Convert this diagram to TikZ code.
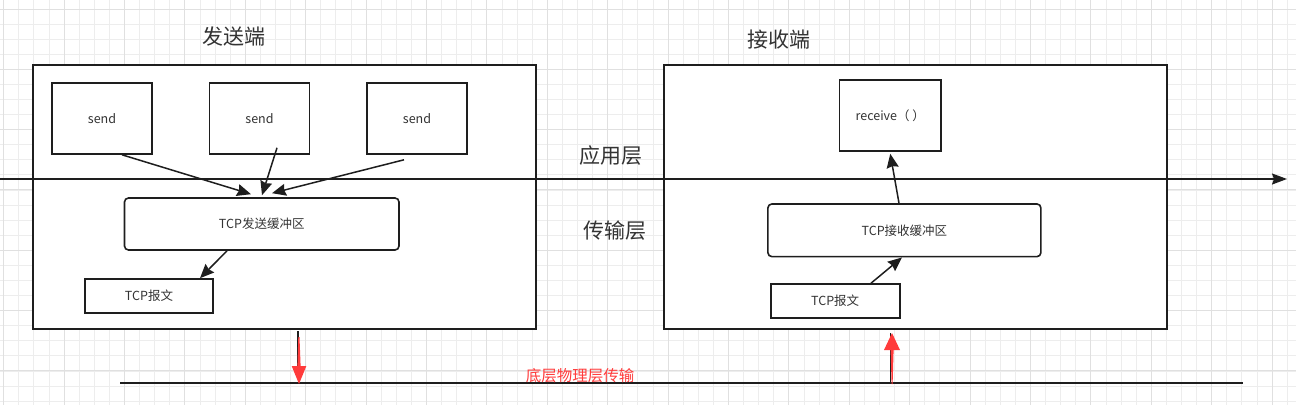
\documentclass[tikz,border=0pt]{standalone}
\usepackage{fontspec}
\setmainfont{Noto Sans CJK SC}
\usetikzlibrary{arrows.meta}
\definecolor{minorgrid}{HTML}{EDEDED}
\definecolor{majorgrid}{HTML}{E0E0E0}
\definecolor{ink}{HTML}{1E1E1E}
\definecolor{txt}{HTML}{333333}
\definecolor{redink}{HTML}{FF3B3B}
\tikzset{
  outerbox/.style={draw=ink, line width=1.6pt, fill=white, inner sep=0pt},
  box/.style={draw=ink, line width=1.6pt, fill=white, inner sep=0pt, text=txt,
    font=\fontsize{12.5}{14}\selectfont},
  rbox/.style={box, rounded corners=4pt},
  arr/.style={draw=ink, line width=1.5pt, -{Stealth[length=14pt,width=12pt,inset=1.5pt]}},
  mainarr/.style={draw=ink, line width=1.6pt, -{Stealth[length=15pt,width=11pt,inset=2pt]}},
  plain/.style={draw=ink, line width=1.6pt},
  redshape/.style={fill=redink, draw=none},
  title/.style={text=txt, font=\fontsize{21}{24}\selectfont, inner sep=0pt},
  redlabel/.style={text=redink, font=\fontsize{15.5}{18}\selectfont, inner sep=0pt},
}
\begin{document}
\begin{tikzpicture}[x=1pt,y=-1pt]
\useasboundingbox (0,0) rectangle (1296,405);
\fill[white] (0,0) rectangle (1296,405);
% grid
\foreach \k in {0,...,85} {\draw[minorgrid, line width=0.8pt] ({3.6+15.1*\k},0) -- ({3.6+15.1*\k},405);}
\foreach \k in {0,...,26} {\draw[minorgrid, line width=0.8pt] (0,{9+15.08*\k}) -- (1296,{9+15.08*\k});}
\foreach \k in {0,...,21} {\draw[majorgrid, line width=1pt] ({3.6+60.4*\k},0) -- ({3.6+60.4*\k},405);}
\foreach \k in {0,...,6} {\draw[majorgrid, line width=1pt] (0,{9+60.32*\k}) -- (1296,{9+60.32*\k});}

% outer boxes
\node[outerbox, minimum width=503pt, minimum height=264pt] (sbox) at (284.5,197) {};
\node[outerbox, minimum width=503pt, minimum height=264pt] (rbox) at (915.5,197) {};

% titles
\node[title] (stitle) at (233.5,37) {发送端};
\node[title] (rtitle) at (778.5,40) {接收端};
\node[title] (app) at (610.5,156) {应用层};
\node[title] (trans) at (614.5,231) {传输层};

% main layer line
\coordinate (L0) at (0,179);
\coordinate (L1) at (1287,179);
\draw[mainarr] (L0) -- (L1);

% sender inner
\node[box, minimum width=100pt, minimum height=71pt] (send1) at (102,118.5) {send};
\node[box, minimum width=100pt, minimum height=71pt] (send2) at (259.5,118.5) {send};
\node[box, minimum width=100pt, minimum height=71pt] (send3) at (417,118.5) {send};
\node[rbox, minimum width=274.5pt, minimum height=52pt] (sbuf) at (261.75,224) {TCP发送缓冲区};
\node[box, minimum width=128pt, minimum height=34pt] (smsg) at (149,296) {TCP报文};

% receiver inner
\node[box, minimum width=101.5pt, minimum height=71pt] (recv) at (890.25,115.5) {receive（ ）};
\node[rbox, minimum width=273pt, minimum height=52.7pt] (rbuf) at (904.4,230.3) {TCP接收缓冲区};
\node[box, minimum width=129pt, minimum height=34pt] (rmsg) at (835.2,301) {TCP报文};

% arrows sender
\draw[arr] ([xshift=20pt]send1.south) -- ([xshift=-10.75pt,yshift=3pt]sbuf.north);
\draw[arr] ([xshift=17.5pt,yshift=7pt]send2.south) -- ([xshift=0.25pt,yshift=2pt]sbuf.north);
\draw[arr] ([xshift=-13pt,yshift=-5pt]send3.south) -- ([xshift=10.25pt,yshift=4pt]sbuf.north);
\draw[arr] ([xshift=-34.75pt]sbuf.south) -- ([xshift=51pt]smsg.north);

% arrows receiver
\draw[arr] ([xshift=-5.4pt]rbuf.north) -- ([yshift=-2pt]recv.south);
\draw[arr] ([xshift=35.8pt]rmsg.north) -- ([xshift=-2.4pt]rbuf.south);

% bottom physical line
\coordinate (B0) at (120,383);
\coordinate (B1) at (1243,383);
\draw[plain] (B0) -- (B1);
\node[redlabel] (phys) at (580,375.5) {底层物理层传输};

% sender transfer (down)
\coordinate (sd0) at (297.8,331);
\coordinate (sd1) at (297.8,372);
\draw[plain] (sd0) -- (sd1);
\fill[redshape] (298.3,337) -- (299.5,337) -- (300.6,366) -- (306.3,366) -- (299,384)
  -- (291.7,366) -- (297.4,366) -- cycle;

% receiver transfer (up)
\coordinate (rd0) at (890.6,333);
\coordinate (rd1) at (890.6,383);
\draw[plain] (rd0) -- (rd1);
\fill[redshape] (892,333) -- (900,350) -- (893.6,350) -- (892.6,384) -- (891.6,384)
  -- (890.6,350) -- (884,350) -- cycle;
\end{tikzpicture}
\end{document}
